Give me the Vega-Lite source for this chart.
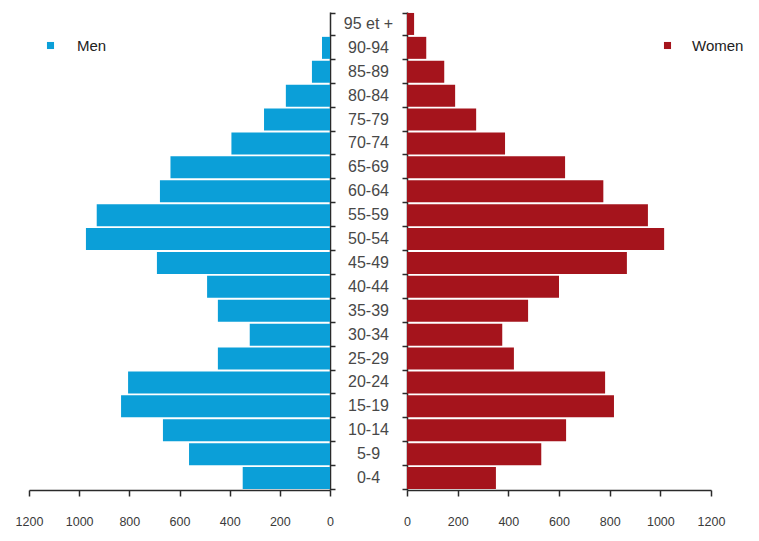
{
  "$schema": "https://vega.github.io/schema/vega-lite/v6.json",
  "padding": {"left": 15, "top": 12, "right": 5, "bottom": 5},
  "background": "white",
  "config": {
    "view": {"stroke": null},
    "axis": {"domainColor": "#2a2a2a", "tickColor": "#2a2a2a", "domainWidth": 1.5, "tickWidth": 1.5, "grid": false, "labelFont": "Liberation Sans, Arial, sans-serif", "labelFontSize": 12.5, "labelColor": "#3a3a3a", "labelOverlap": false, "labelFlush": false},
    "legend": {"labelFont": "Liberation Sans, Arial, sans-serif", "labelFontSize": 15, "labelColor": "#222222", "symbolType": "square", "symbolSize": 50, "padding": 0, "labelOffset": 20}
  },
  "data": {
    "values": [
      {"age": "95 et +", "sex": "Men", "value": 0},
      {"age": "90-94", "sex": "Men", "value": 32},
      {"age": "85-89", "sex": "Men", "value": 72},
      {"age": "80-84", "sex": "Men", "value": 176},
      {"age": "75-79", "sex": "Men", "value": 263},
      {"age": "70-74", "sex": "Men", "value": 393},
      {"age": "65-69", "sex": "Men", "value": 636},
      {"age": "60-64", "sex": "Men", "value": 678},
      {"age": "55-59", "sex": "Men", "value": 930},
      {"age": "50-54", "sex": "Men", "value": 973},
      {"age": "45-49", "sex": "Men", "value": 690},
      {"age": "40-44", "sex": "Men", "value": 490},
      {"age": "35-39", "sex": "Men", "value": 447},
      {"age": "30-34", "sex": "Men", "value": 320},
      {"age": "25-29", "sex": "Men", "value": 447},
      {"age": "20-24", "sex": "Men", "value": 805},
      {"age": "15-19", "sex": "Men", "value": 833},
      {"age": "10-14", "sex": "Men", "value": 666},
      {"age": "5-9", "sex": "Men", "value": 562},
      {"age": "0-4", "sex": "Men", "value": 348},
      {"age": "95 et +", "sex": "Women", "value": 28},
      {"age": "90-94", "sex": "Women", "value": 76},
      {"age": "85-89", "sex": "Women", "value": 147},
      {"age": "80-84", "sex": "Women", "value": 190},
      {"age": "75-79", "sex": "Women", "value": 273},
      {"age": "70-74", "sex": "Women", "value": 387},
      {"age": "65-69", "sex": "Women", "value": 624},
      {"age": "60-64", "sex": "Women", "value": 775},
      {"age": "55-59", "sex": "Women", "value": 951},
      {"age": "50-54", "sex": "Women", "value": 1015},
      {"age": "45-49", "sex": "Women", "value": 868},
      {"age": "40-44", "sex": "Women", "value": 600},
      {"age": "35-39", "sex": "Women", "value": 478},
      {"age": "30-34", "sex": "Women", "value": 376},
      {"age": "25-29", "sex": "Women", "value": 422},
      {"age": "20-24", "sex": "Women", "value": 782},
      {"age": "15-19", "sex": "Women", "value": 817},
      {"age": "10-14", "sex": "Women", "value": 628},
      {"age": "5-9", "sex": "Women", "value": 530},
      {"age": "0-4", "sex": "Women", "value": 351}
    ]
  },
  "spacing": 0,
  "bounds": "flush",
  "resolve": {"scale": {"color": "independent", "x": "independent"}, "legend": {"color": "independent"}},
  "hconcat": [
    {
      "width": 301,
      "height": 478,
      "transform": [{"filter": "datum.sex === 'Men'"}],
      "mark": {"type": "bar"},
      "encoding": {
        "y": {"field": "age", "type": "nominal", "sort": ["95 et +","90-94","85-89","80-84","75-79","70-74","65-69","60-64","55-59","50-54","45-49","40-44","35-39","30-34","25-29","20-24","15-19","10-14","5-9","0-4"], "scale": {"paddingInner": 0.08, "paddingOuter": 0.04}, "axis": {"orient": "right", "title": null, "labels": false, "tickBand": "extent", "tickSize": 5}},
        "x": {"field": "value", "type": "quantitative", "scale": {"domain": [0, 1200], "reverse": true}, "axis": {"title": null, "values": [0,200,400,600,800,1000,1200], "format": "d", "tickSize": 6, "labelPadding": 19}},
        "color": {"field": "sex", "type": "nominal", "scale": {"domain": ["Men"], "range": ["#0b9fd8"]}, "legend": {"title": null, "orient": "none", "legendX": 14, "legendY": 26, "labelOffset": 19}}
      }
    },
    {
      "width": 77,
      "height": 478,
      "transform": [{"filter": "datum.sex === 'Men'"}],
      "mark": {"type": "text", "font": "Liberation Sans, Arial, sans-serif", "fontSize": 16, "color": "#484848", "baseline": "middle"},
      "encoding": {
        "y": {"field": "age", "type": "nominal", "sort": ["95 et +","90-94","85-89","80-84","75-79","70-74","65-69","60-64","55-59","50-54","45-49","40-44","35-39","30-34","25-29","20-24","15-19","10-14","5-9","0-4"], "scale": {"paddingInner": 0.08, "paddingOuter": 0.04}, "axis": null},
        "text": {"field": "age"}
      }
    },
    {
      "width": 304,
      "height": 478,
      "transform": [{"filter": "datum.sex === 'Women'"}],
      "mark": {"type": "bar"},
      "encoding": {
        "y": {"field": "age", "type": "nominal", "sort": ["95 et +","90-94","85-89","80-84","75-79","70-74","65-69","60-64","55-59","50-54","45-49","40-44","35-39","30-34","25-29","20-24","15-19","10-14","5-9","0-4"], "scale": {"paddingInner": 0.08, "paddingOuter": 0.04}, "axis": {"orient": "left", "title": null, "labels": false, "tickBand": "extent", "tickSize": 5}},
        "x": {"field": "value", "type": "quantitative", "scale": {"domain": [0, 1200]}, "axis": {"title": null, "values": [0,200,400,600,800,1000,1200], "format": "d", "tickSize": 6, "labelPadding": 19}},
        "color": {"field": "sex", "type": "nominal", "scale": {"domain": ["Women"], "range": ["#a5141c"]}, "legend": {"title": null, "orient": "none", "legendX": 253, "legendY": 26, "labelOffset": 17}}
      }
    }
  ]
}
